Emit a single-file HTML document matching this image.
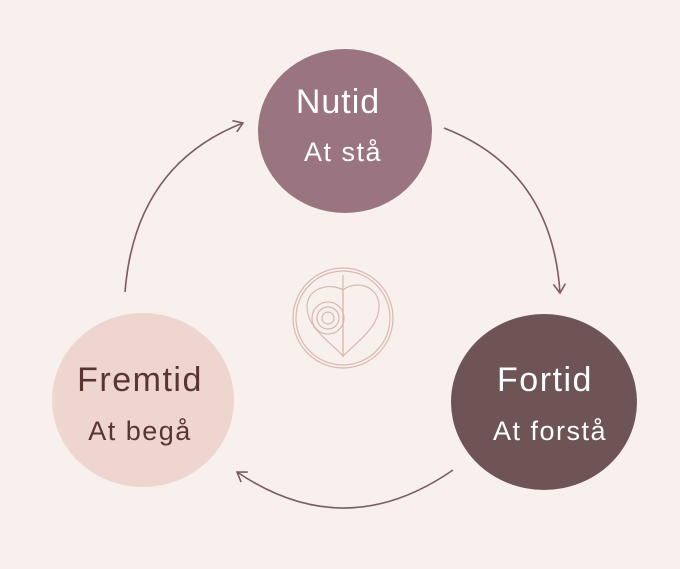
<!DOCTYPE html>
<html><head><meta charset="utf-8"><style>
html,body{margin:0;padding:0;background:#f7f0ed;}
svg{display:block}
</style></head><body>
<svg width="680" height="569" viewBox="0 0 680 569" xmlns="http://www.w3.org/2000/svg">
<defs>
<marker id="a" markerWidth="14" markerHeight="14" refX="10" refY="7" orient="auto" markerUnits="userSpaceOnUse">
<polyline points="1,1 10,7 1,13" fill="none" stroke="#7a5c62" stroke-width="1.6"/>
</marker>
</defs>
<rect width="680" height="569" fill="#f7f0ed"/>
<g fill="none" stroke="#7a5c62" stroke-width="1.6">
<path d="M125,292 Q135,165 243,123" marker-end="url(#a)"/>
<path d="M444,128 Q552,170 560,293" marker-end="url(#a)"/>
<path d="M453,470 Q345,545 237,472" marker-end="url(#a)"/>
</g>
<ellipse cx="345" cy="131" rx="87" ry="82" fill="#9a7480"/>
<ellipse cx="143" cy="400" rx="91" ry="87" fill="#eed5d0"/>
<ellipse cx="544" cy="402" rx="93" ry="88" fill="#6e5454"/>
<g fill="none" stroke="#d9b8b0" stroke-width="1.2">
<circle cx="343" cy="318" r="50"/>
<circle cx="343" cy="318" r="47"/>
<path d="M343,290 C330,282 306,288 307,308 C308,328 328,340 343,356 Z"/>
<path d="M343,275 L343,356 C360,340 380,325 379,305 C378,285 355,280 343,290"/>
<circle cx="328" cy="318" r="6"/><circle cx="328" cy="318" r="11"/><circle cx="328" cy="318" r="16"/>
</g>
<g font-family="Liberation Sans, sans-serif" text-anchor="middle">
<text x="338" y="113" font-size="34" letter-spacing="1" fill="#fff">Nutid</text>
<text x="343" y="161" font-size="27" letter-spacing="1.5" fill="#fff">At stå</text>
<text x="140" y="391" font-size="34" letter-spacing="1.5" fill="#5a3530">Fremtid</text>
<text x="140" y="440" font-size="27" letter-spacing="1.5" fill="#5a3530">At begå</text>
<text x="545" y="391" font-size="34" letter-spacing="1.5" fill="#fff">Fortid</text>
<text x="550" y="440" font-size="27" letter-spacing="1.5" fill="#fff">At forstå</text>
</g>
</svg>
</body></html>
